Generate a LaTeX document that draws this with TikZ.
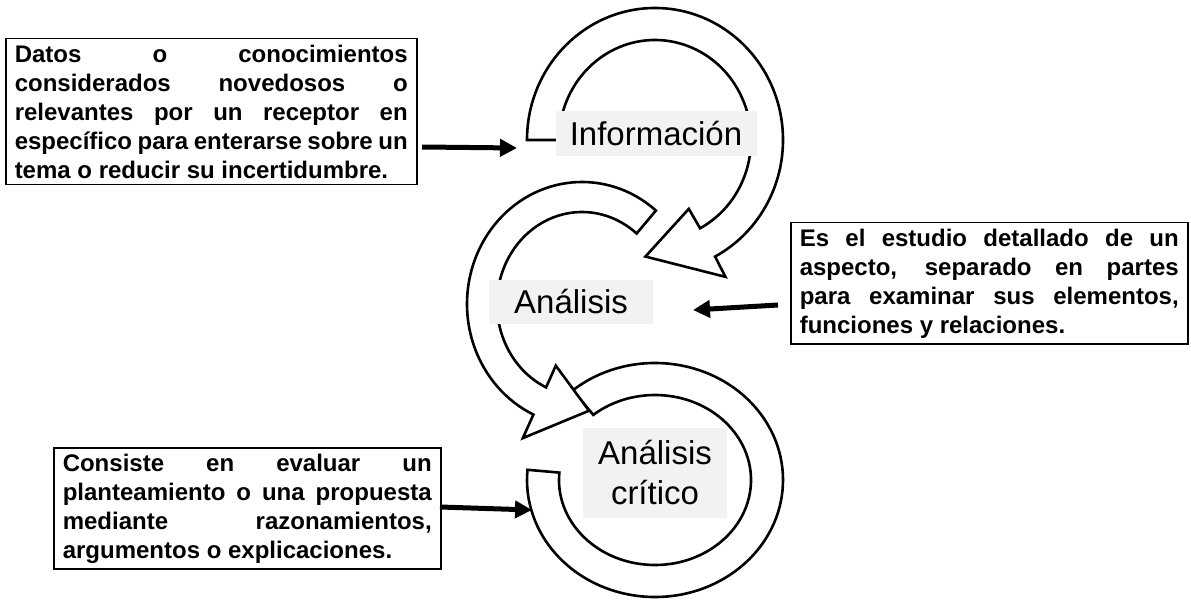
\documentclass[tikz,border=0pt]{standalone}
\usepackage{fontspec}
\setmainfont{Liberation Sans}
\usetikzlibrary{arrows.meta}
\begin{document}
\begin{tikzpicture}[x=1pt,y=1pt,
  band/.style={draw=black,line width=2.6pt,fill=white,line join=miter},
  lbl/.style={fill=gray!10,inner sep=5pt,font=\fontsize{33}{40}\selectfont,align=center},
  desc/.style={draw=black,line width=1.5pt,inner xsep=9pt,inner ysep=6pt,align=justify,
    font=\fontsize{24}{29}\selectfont\bfseries,
    execute at begin node={\hyphenpenalty=10000\exhyphenpenalty=10000\relax}},
  blk/.style={line width=5pt,-{Triangle[length=17pt,width=17pt]}}]
\useasboundingbox (0,0) rectangle (1191,606);
% bottom band (Analisis critico)
\coordinate (cb) at (655,126);
\draw[band] ([shift={(cb)}]130:128 and 117) arc[start angle=130,end angle=-185,x radius=128,y radius=117]
  -- ([shift={(cb)}]-185:96 and 85) arc[start angle=-185,end angle=130,x radius=96,y radius=85] -- cycle;
% middle band (Analisis)
\coordinate (cm) at (582,302);
\draw[band] ([shift={(cm)}]50:115 and 122) arc[start angle=50,end angle=245,x radius=115,y radius=122]
  -- ([shift={(cm)}]245:140 and 148) -- ([shift={(cm)}]274:100 and 107) -- ([shift={(cm)}]245:62 and 68)
  -- ([shift={(cm)}]245:85 and 92) arc[start angle=245,end angle=50,x radius=85,y radius=92] -- cycle;
% top band (Informacion)
\coordinate (ct) at (655,466);
\draw[band] ([shift={(ct)}]180:128 and 132) arc[start angle=180,end angle=-62,x radius=128,y radius=132]
  -- ([shift={(ct)}]-62:150 and 155) -- ([shift={(ct)}]-95:110 and 117) -- ([shift={(ct)}]-62:72 and 78)
  -- ([shift={(ct)}]-62:96 and 100) arc[start angle=-62,end angle=180,x radius=96,y radius=100] -- cycle;
% labels
\node[lbl,minimum width=201pt,minimum height=45pt] (info) at (656,472) {Información};
\node[lbl,minimum width=164pt,minimum height=44pt] (anal) at (571,304) {Análisis};
\node[lbl,minimum width=144pt,minimum height=90pt] (crit) at (655,133) {Análisis\\crítico};
% description boxes
\node[desc,text width=393pt,anchor=north west] (d1) at (5,568) {Datos o conocimientos considerados novedosos o relevantes por un receptor en específico para enterarse sobre un tema o reducir su incertidumbre.};
\node[desc,text width=379pt,anchor=north west] (d2) at (790,384) {Es el estudio detallado de un aspecto, separado en partes para examinar sus elementos, funciones y relaciones.};
\node[desc,text width=369pt,anchor=north west] (d3) at (53,159) {Consiste en evaluar un planteamiento o una propuesta mediante razonamientos, argumentos o explicaciones.};
% black arrows
\coordinate (a1s) at (422,459); \coordinate (a1e) at (517,458);
\coordinate (a2s) at (778,301); \coordinate (a2e) at (693,296);
\coordinate (a3s) at (440,99);  \coordinate (a3e) at (532,96);
\draw[blk] (a1s) -- (a1e);
\draw[blk] (a2s) -- (a2e);
\draw[blk] (a3s) -- (a3e);
\end{tikzpicture}
\end{document}
